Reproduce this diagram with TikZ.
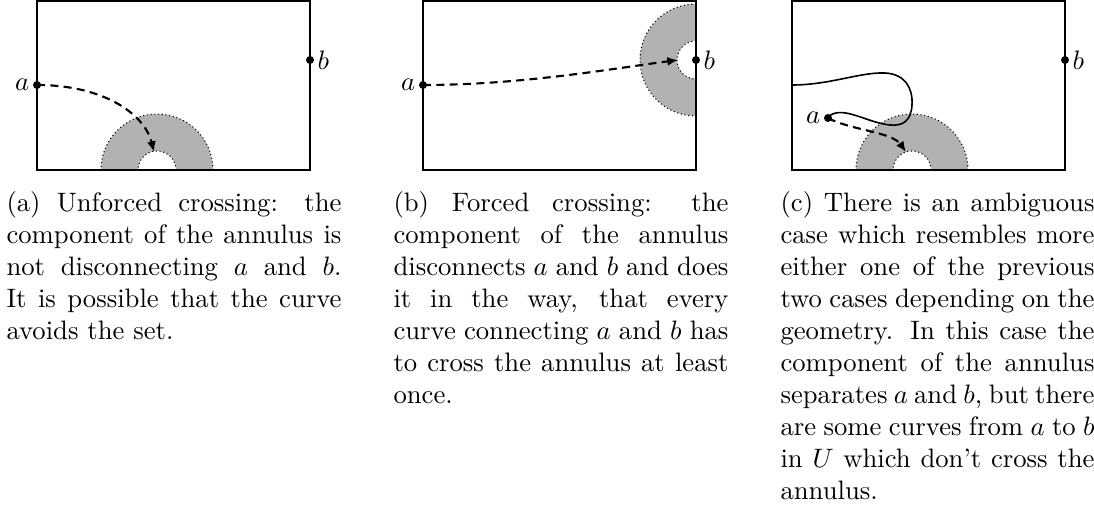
\documentclass[tikz,border=0pt]{standalone}
\usetikzlibrary{arrows.meta}
\begin{document}
\begin{tikzpicture}[x=0.375pt,y=-0.375pt,
  frame/.style={thick},
  ann/.style={fill=black!30},
  annline/.style={densely dotted, line width=0.4pt},
  dot/.style={circle,fill=black,inner sep=0pt,minimum size=3pt},
  lbl/.style={inner sep=1pt},
  path1/.style={thick,dash pattern=on 3pt off 2pt,-{Latex[length=4pt,width=3.4pt]}},
  solidcurve/.style={semithick},
  capt/.style={inner sep=0pt,anchor=base west}]
\useasboundingbox (0,0) rectangle (1094,506);

% ---------- panel (a)
\coordinate (ca) at (157,170);
\fill[ann] ([xshift=21pt]ca) arc[start angle=0,end angle=180,radius=21pt]
  -- ([xshift=-7.125pt]ca) arc[start angle=180,end angle=0,radius=7.125pt] -- cycle;
\draw[annline] ([xshift=21pt]ca) arc[start angle=0,end angle=180,radius=21pt];
\draw[annline] ([xshift=7.125pt]ca) arc[start angle=0,end angle=180,radius=7.125pt];
\draw[frame] (37,1) rectangle (310,170);
\node[dot] (aa) at (37,85) {};
\node[dot] (ba) at (310,60) {};
\node[lbl,anchor=east] (la) at (aa.west) {$a$};
\node[lbl,anchor=west] (lb) at (ba.east) {$b$};
\coordinate (ea) at (154,152);
\draw[path1] (aa.center) .. controls (105,85) and (145,115) .. (ea);

% ---------- panel (b)
\coordinate (cb) at (696,60);
\fill[ann] ([yshift=21pt]cb) arc[start angle=90,end angle=270,radius=21pt]
  -- ([yshift=-7.125pt]cb) arc[start angle=270,end angle=90,radius=7.125pt] -- cycle;
\draw[annline] ([yshift=21pt]cb) arc[start angle=90,end angle=270,radius=21pt];
\draw[annline] ([yshift=7.125pt]cb) arc[start angle=90,end angle=270,radius=7.125pt];
\draw[frame] (423,1) rectangle (696,170);
\node[dot] (ab) at (423,85) {};
\node[dot] (bb) at (696,60) {};
\node[lbl,anchor=east] (lab) at (ab.west) {$a$};
\node[lbl,anchor=west] (lbb) at (bb.east) {$b$};
\coordinate (eb) at (678,60);
\draw[path1] (ab.center) .. controls (520,85) and (610,69) .. (eb);

% ---------- panel (c)
\coordinate (cc) at (912,170);
\fill[ann] ([xshift=21pt]cc) arc[start angle=0,end angle=180,radius=21pt]
  -- ([xshift=-7.125pt]cc) arc[start angle=180,end angle=0,radius=7.125pt] -- cycle;
\draw[annline] ([xshift=21pt]cc) arc[start angle=0,end angle=180,radius=21pt];
\draw[annline] ([xshift=7.125pt]cc) arc[start angle=0,end angle=180,radius=7.125pt];
\draw[frame] (792,1) rectangle (1065,170);
\node[dot] (ac) at (828,118) {};
\node[dot] (bc) at (1065,60) {};
\node[lbl,anchor=east] (lac) at (ac.west) {$a$};
\node[lbl,anchor=west] (lbc) at (bc.east) {$b$};
\coordinate (ec) at (906,152);
\coordinate (sc) at (792,85);
\draw[path1] (ac.center) .. controls (850,130) and (892,132) .. (ec);
\draw[solidcurve] (sc) .. controls (830,85) and (860,72) .. (885,73)
  .. controls (905,74) and (913,88) .. (912,105)
  .. controls (911,122) and (902,126) .. (890,125)
  .. controls (870,123) and (850,110) .. (836,113)
  .. controls (831,114) and (829,116) .. (ac.center);

% ---------- captions
\node[capt] (capa) at (6,212) {\parbox[t]{125.6pt}{
(a) Unforced crossing: the\linebreak
component of the annulus is\linebreak
not disconnecting $a$ and $b$.\linebreak
It is possible that the curve\linebreak
avoids the set.}};
\node[capt] (capb) at (393,212) {\parbox[t]{125.6pt}{
(b) Forced crossing: the\linebreak
component of the annulus\linebreak
disconnects $a$ and $b$ and does\linebreak
it in the way, that every\linebreak
curve connecting $a$ and $b$ has\linebreak
to cross the annulus at least\linebreak
once.}};
\node[capt] (capc) at (780,212) {\parbox[t]{117.75pt}{
(c) There is an ambiguous\linebreak
case which resembles more\linebreak
either one of the previous\linebreak
two cases depending on the\linebreak
geometry. In this case the\linebreak
component of the annulus\linebreak
separates $a$ and $b$, but there\linebreak
are some curves from $a$ to $b$\linebreak
in $U$ which don't cross the\linebreak
annulus.}};
\end{tikzpicture}
\end{document}
